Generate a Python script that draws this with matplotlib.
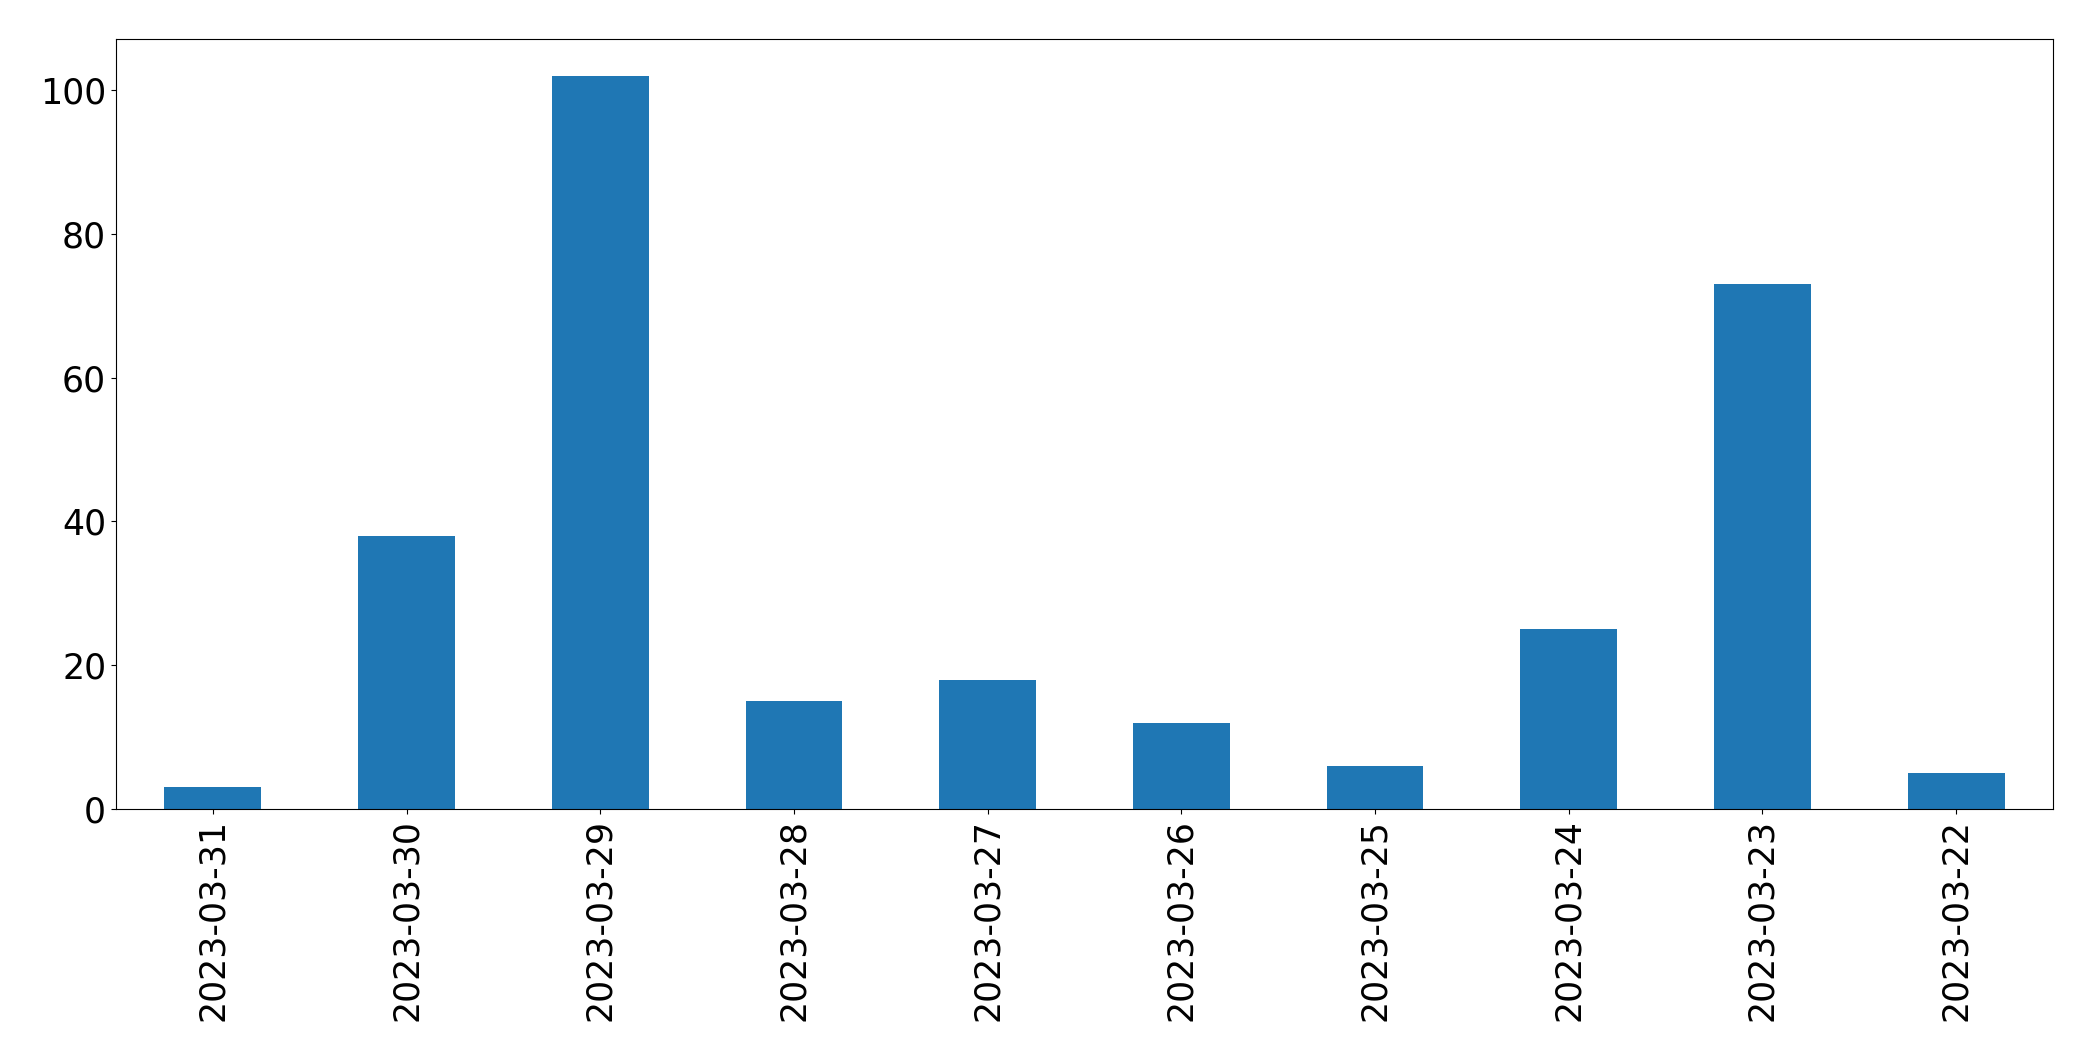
import matplotlib
matplotlib.use("Agg")
import matplotlib.pyplot as plt
import pandas as pd

dates = ["2023-03-31", "2023-03-30", "2023-03-29", "2023-03-28", "2023-03-27",
         "2023-03-26", "2023-03-25", "2023-03-24", "2023-03-23", "2023-03-22"]
counts = [3, 38, 102, 15, 18, 12, 6, 25, 73, 5]

s = pd.Series(counts, index=dates)

fig = plt.figure(figsize=(20.93, 10.61), dpi=100)
ax = fig.add_axes([0.0554, 0.2375, 0.9809 - 0.0554, 0.9632 - 0.2375])
s.plot(kind="bar", ax=ax, color="#1f77b4")
ax.tick_params(axis="x", labelsize=25)
ax.tick_params(axis="y", labelsize=25)
fig.savefig("out.png", dpi=100)
